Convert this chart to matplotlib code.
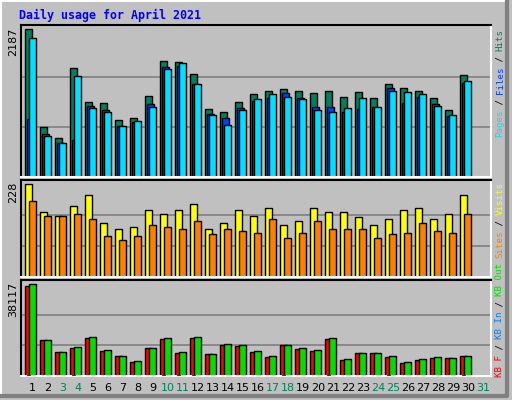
import matplotlib
matplotlib.use("Agg")
import matplotlib.pyplot as plt
import numpy as np

days = list(range(1, 31))
hits  = [2187,747,584,1608,1118,1089,851,881,1207,1712,1697,1519,1014,970,1118,1222,
         1281,1296,1281,1237,1267,1178,1252,1163,1371,1311,1267,1163,999,1504]
files = [856,643,510,544,1059,985,762,811,1074,1623,1643,1371,940,881,1029,1133,
         1163,1237,1163,1039,1039,970,1014,1039,1311,1103,1192,1074,910,1385]
pages = [2053,604,510,1489,1029,970,762,836,1044,1593,1682,1371,925,777,999,1148,
         1222,1192,1148,999,970,1029,1163,1039,1281,1252,1222,1059,925,1415]
visits = [228,161,151,174,203,134,117,124,164,154,164,179,119,132,166,149,
          169,129,137,171,161,159,147,127,142,164,171,144,154,203]
sites  = [186,149,149,156,142,102,92,100,127,122,119,137,105,119,114,109,
          142,97,109,139,119,119,119,97,107,109,132,114,109,156]
kbf  = [37282,15163,10155,11825,15999,10573,8486,5982,11825,15581,9738,15999,9321,13077,12660,10155,
        8069,13077,11407,10573,15581,6817,9738,9738,8069,5565,6817,7651,7651,8486]
kbin = [400,150,150,400,150,150,150,150,150,400,400,400,150,150,150,150,
        150,400,150,150,400,150,150,150,400,150,150,150,150,400]
kbout = [38117,15163,10155,12242,16416,10990,8486,6399,11825,15999,10155,16416,9321,13494,13077,10573,
         8486,13077,11825,10990,15999,7234,9738,9738,8486,5982,7234,8069,7651,8486]
tick_days = list(range(1, 32))
weekend = {3,4,10,11,17,18,24,25,31}

W, H = 512, 400
fig = plt.figure(figsize=(W/100, H/100), dpi=100)
fig.patch.set_facecolor('#C0C0C0')
# bevel border
fig.add_artist(plt.Line2D([0.5/W, 0.5/W, 1-6/W], [6/H, 1-0.5/H, 1-0.5/H], color='white', lw=1.5, transform=fig.transFigure))
fig.add_artist(plt.Line2D([2/W, 1-5/W, 1-5/W], [4/H, 4/H, 1-2/H], color='#808080', lw=3, transform=fig.transFigure))

def ax_at(x0, y0, x1, y1):
    return fig.add_axes([x0/W, 1-y1/H, (x1-x0)/W, (y1-y0)/H])

lo = 0.463
def setup(ax, top, gridmax):
    ax.set_facecolor('#C0C0C0')
    ax.set_xlim(lo, lo + 470/15)
    ax.set_ylim(0, top)
    for g in (gridmax/3, 2*gridmax/3):
        ax.axhline(g, color='#808080', lw=1.2, zorder=0)
    for s in ('top', 'left'):
        ax.spines[s].set_color('black'); ax.spines[s].set_linewidth(1.5)
    for s in ('bottom', 'right'):
        ax.spines[s].set_color('white'); ax.spines[s].set_linewidth(1.5)
    ax.set_yticks([])
    ax.set_xticks([])

d = np.array(days)
bw = 0.49
kw = dict(align='edge', edgecolor='black', linewidth=1.0, zorder=2)

ax1 = ax_at(21, 25, 491, 177)
setup(ax1, 2187*455/442, 2187*455/442*0.99)
ax1.bar(d-0.27, hits, bw, color='#00805C', **kw)
ax1.bar(d-0.17, files, bw, color='#0040FF', **kw)
ax1.bar(d+0.0, pages, bw, color='#00E0FF', **kw)

ax2 = ax_at(21, 180, 491, 277)
setup(ax2, 228*96.7/92.3, 228)
ax2.bar(d-0.27, visits, bw, color='#FFFF00', **kw)
ax2.bar(d+0.0, sites, bw, color='#FF8000', **kw)

ax3 = ax_at(21, 280, 491, 376)
setup(ax3, 38117*95.7/91.3, 38117)
ax3.bar(d-0.27, kbf, bw, color='#FF0000', **kw)
ax3.bar(d-0.17, kbin, 0.2, color='#0080FF', align='edge', edgecolor='black', linewidth=0.5, zorder=3)
ax3.bar(d+0.0, kbout, bw, color='#00E000', **kw)

ax3.set_xticks([t+0.25 for t in tick_days])
ax3.set_xticklabels([str(t) for t in tick_days], fontsize=8, family='DejaVu Sans')
ax3.tick_params(axis='x', length=0, pad=5)
for lab, t in zip(ax3.get_xticklabels(), tick_days):
    lab.set_color('#00805C' if t in weekend else 'black')

fig.text(19/W, 1-15/H, 'Daily usage for April 2021', color='#0000FF', fontsize=8.4,
         family='DejaVu Sans Mono', fontweight='bold', ha='left', va='center')

for val, ytop in ((2187, 28), (228, 182), (38117, 282)):
    fig.text(13/W, 1-ytop/H, str(val), rotation=90, fontsize=8, ha='center', va='top',
             family='DejaVu Sans', color='black')

cw = 5.4
def vlabel(pieces, ybottom):
    k = 0
    for txt, col in pieces:
        y = ybottom - k*cw
        fig.text(500/W, 1-y/H, txt, rotation=90, rotation_mode='anchor', ha='left', va='center',
                 fontsize=6.6, family='DejaVu Sans Mono', color=col)
        k += len(txt)

vlabel([('Pages', '#00E0FF'), (' / ', 'black'), ('Files', '#0040FF'), (' / ', 'black'), ('Hits', '#00805C')], 137)
vlabel([('Sites', '#FF8000'), (' / ', 'black'), ('Visits', '#FFFF00')], 258)
vlabel([('KB F', '#FF0000'), (' / ', 'black'), ('KB In', '#0080FF'), (' / ', 'black'), ('KB Out', '#00E000')], 377)

fig.savefig('out.png', dpi=100, facecolor=fig.get_facecolor())
